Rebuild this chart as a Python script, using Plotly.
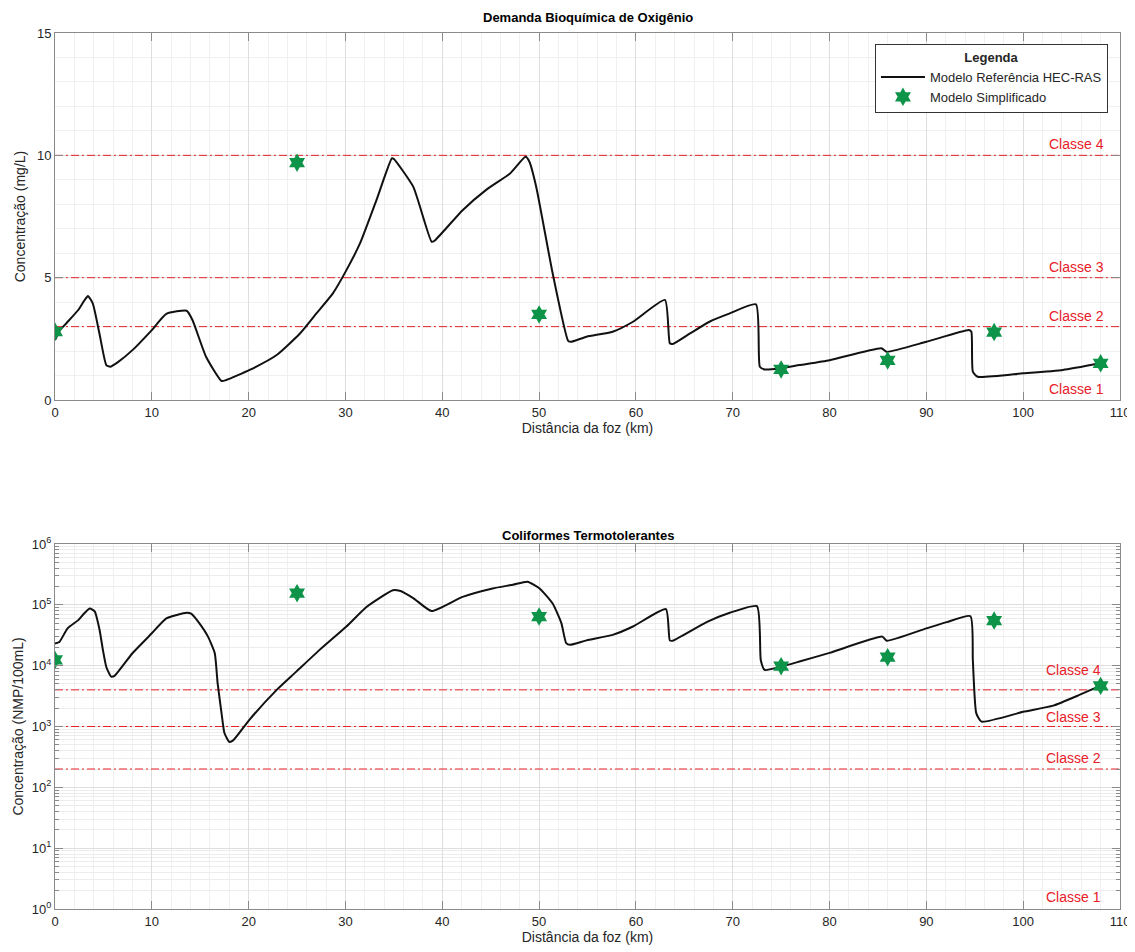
import plotly.graph_objects as go

# ---------------- data ----------------
dbo_x = [0, 0.5, 1.2, 2.4, 3.0, 3.4, 3.9, 4.6, 5.3, 5.7, 6.5, 8.0, 10.0, 11.5, 13.6, 14.2,
         15.6, 17.2, 17.7, 20.1, 22.9, 25.3, 27.0, 28.7, 30.1, 31.5, 33.2, 34.8, 35.0, 37.0,
         38.9, 39.2, 42.1, 44.5, 47.0, 48.6, 49.0, 49.7, 51.4, 53.0, 53.3, 54.9, 57.6, 59.7,
         63.0, 63.5, 63.8, 65.5, 67.6, 69.7, 72.4, 72.8, 73.3, 74.8, 76.9, 80.0, 85.35, 85.9,
         90.0, 94.4, 94.65, 94.8, 95.3, 100.0, 104.1, 108.0]
dbo_y = [2.45, 2.85, 3.15, 3.68, 4.05, 4.25, 3.95, 2.7, 1.43, 1.36, 1.55, 2.04, 2.86, 3.52, 3.65, 3.27,
         1.77, 0.78, 0.82, 1.23, 1.84, 2.72, 3.54, 4.36, 5.31, 6.4, 8.17, 9.88, 9.85, 8.72,
         6.47, 6.51, 7.76, 8.58, 9.26, 9.94, 9.74, 8.72, 5.18, 2.42, 2.38, 2.59, 2.79, 3.2,
         4.09, 2.32, 2.29, 2.7, 3.2, 3.54, 3.91, 1.36, 1.25, 1.29, 1.43, 1.63, 2.12, 1.97,
         2.38, 2.86, 2.79, 1.16, 0.95, 1.09, 1.23, 1.5]

coli_x = [0, 0.45, 1.3, 2.4, 3.0, 3.6, 4.1, 4.6, 4.95, 5.3, 5.8, 6.15, 8.0, 10.0, 11.5, 13.6,
          14.1, 14.9, 15.8, 16.5, 16.8, 17.2, 17.5, 18.0, 18.4, 20.1, 22.9, 24.9, 27.3, 30.1,
          32.2, 34.9, 35.6, 37.0, 38.9, 42.1, 45.2, 47.3, 48.8, 50.05, 51.4, 52.3, 52.8, 53.2,
          54.9, 57.6, 59.7, 63.1, 63.5, 63.8, 67.3, 69.7, 72.5, 72.9, 73.3, 74.85, 76.9, 80.0,
          85.45, 85.9, 90.0, 92.1, 94.55, 94.8, 95.15, 95.7, 100.0, 103.1, 105.8, 108.0]
coli_y = [2.3e4, 2.45e4, 4.1e4, 5.6e4, 7.2e4, 8.7e4, 7.8e4, 3.9e4, 1.8e4, 9.5e3, 6.6e3, 6.8e3,
          1.6e4, 3.4e4, 6.0e4, 7.4e4, 7.1e4, 5.0e4, 3.0e4, 1.6e4, 5.1e3, 1.66e3, 7.8e2, 5.6e2,
          5.9e2, 1.3e3, 4.0e3, 7.9e3, 1.8e4, 4.4e4, 9.3e4, 1.74e5, 1.7e5, 1.29e5, 7.9e4,
          1.35e5, 1.86e5, 2.14e5, 2.4e5, 1.86e5, 1.05e5, 5.0e4, 2.34e4, 2.2e4, 2.6e4, 3.2e4,
          4.4e4, 8.5e4, 2.6e4, 2.57e4, 5.2e4, 7.4e4, 9.5e4, 1.23e4, 8.5e3, 9.5e3, 1.17e4,
          1.62e4, 3.0e4, 2.57e4, 4.1e4, 5.2e4, 6.5e4, 1.23e4, 1.66e3, 1.2e3, 1.74e3, 2.2e3,
          3.3e3, 4.7e3]

simp_x = [0, 25, 50, 75, 86, 97, 108]
simp_dbo = [2.8, 9.7, 3.5, 1.25, 1.62, 2.78, 1.5]
simp_coli = [1.24e4, 1.55e5, 6.4e4, 9.8e3, 1.38e4, 5.5e4, 4.65e3]

dbo_class_vals = [10, 5, 3]
dbo_class_names = ["Classe 4", "Classe 3", "Classe 2", "Classe 1"]
dbo_label_y = [10.45, 5.45, 3.45, 0.45]

coli_class_vals = [4000, 1000, 200]
coli_class_names = ["Classe 4", "Classe 3", "Classe 2", "Classe 1"]
coli_label_logy = [3.93, 3.16, 2.48, 0.2]

x_ticks = [0, 10, 20, 30, 40, 50, 60, 70, 80, 90, 100, 110]
dbo_ticks = [0, 5, 10, 15]
coli_ticks = [1, 10, 100, 1000, 10000, 100000, 1000000]
coli_ticktext = ["10<sup>0</sup>", "10<sup>1</sup>", "10<sup>2</sup>", "10<sup>3</sup>",
                 "10<sup>4</sup>", "10<sup>5</sup>", "10<sup>6</sup>"]

# ---------------- figure ----------------
FONT = "Liberation Sans, Arial, sans-serif"
GREEN = "#0e9448"
RED = "#e8202a"
AX = "#8a8a8a"
TXT = "#262626"
DASH = "8px,3px,2px,3px"

fig = go.Figure()

for v in dbo_class_vals:
    fig.add_trace(go.Scatter(x=[0, 110], y=[v, v], mode="lines", xaxis="x", yaxis="y",
                             line=dict(color=RED, width=1, dash=DASH),
                             showlegend=False, hoverinfo="skip"))
for v in coli_class_vals:
    fig.add_trace(go.Scatter(x=[0, 110], y=[v, v], mode="lines", xaxis="x2", yaxis="y2",
                             line=dict(color=RED, width=1, dash=DASH),
                             showlegend=False, hoverinfo="skip"))

fig.add_trace(go.Scatter(x=dbo_x, y=dbo_y, mode="lines", xaxis="x", yaxis="y",
                         line=dict(color="#111111", width=2, shape="spline", smoothing=0.5),
                         name="Modelo Referência HEC-RAS"))
fig.add_trace(go.Scatter(x=simp_x, y=simp_dbo, mode="markers", xaxis="x", yaxis="y",
                         marker=dict(symbol="hexagram", size=14, color=GREEN,
                                     line=dict(width=0)),
                         name="Modelo Simplificado"))
fig.add_trace(go.Scatter(x=coli_x, y=coli_y, mode="lines", xaxis="x2", yaxis="y2",
                         line=dict(color="#111111", width=2, shape="spline", smoothing=0.5),
                         showlegend=False))
fig.add_trace(go.Scatter(x=simp_x, y=simp_coli, mode="markers", xaxis="x2", yaxis="y2",
                         marker=dict(symbol="hexagram", size=14, color=GREEN,
                                     line=dict(width=0)),
                         showlegend=False))

common_x = dict(range=[0, 110], tickvals=x_ticks, showgrid=True, gridcolor="#dedede",
                gridwidth=1, zeroline=False, showline=True, linecolor=AX, linewidth=1,
                mirror="ticks", ticks="inside", ticklen=8, tickcolor=AX, automargin=False,
                tickfont=dict(family=FONT, size=13, color=TXT),
                minor=dict(dtick=2, showgrid=True, gridcolor="#f0f0f0", ticks=""),
                title=dict(text="Distância da foz (km)", font=dict(family=FONT, size=14, color=TXT),
                           standoff=4))

# the page body adds an 8px offset, so the figure is sized to fit the window
fig.update_layout(
    width=1127, height=944,
    margin=dict(l=47, r=15, t=25, b=43, autoexpand=False),
    paper_bgcolor="white", plot_bgcolor="white",
    font=dict(family=FONT, color=TXT),
    xaxis=dict(common_x, anchor="y"),
    yaxis=dict(domain=[0.581, 1], range=[0, 15], tickvals=dbo_ticks, showgrid=True,
               gridcolor="#dedede", zeroline=False, showline=True, linecolor=AX,
               mirror="ticks", ticks="inside", ticklen=8, tickcolor=AX, automargin=False,
               tickfont=dict(family=FONT, size=13, color=TXT),
               minor=dict(dtick=1, showgrid=True, gridcolor="#f0f0f0", ticks=""),
               title=dict(text="Concentração (mg/L)", font=dict(family=FONT, size=14, color=TXT),
                          standoff=8)),
    xaxis2=dict(common_x, anchor="y2"),
    yaxis2=dict(domain=[0, 0.4167], type="log", range=[0, 6], tickvals=coli_ticks,
                ticktext=coli_ticktext, showgrid=True, gridcolor="#dedede", zeroline=False,
                showline=True, linecolor=AX, mirror="ticks", ticks="inside", ticklen=8,
                tickcolor=AX, automargin=False, tickfont=dict(family=FONT, size=13, color=TXT),
                minor=dict(dtick="D1", showgrid=True, gridcolor="#ececec", ticks="inside",
                           ticklen=4, tickcolor=AX),
                title=dict(text="Concentração (NMP/100mL)", font=dict(family=FONT, size=14, color=TXT),
                           standoff=4)),
    legend=dict(x=0.9887, y=0.9874, xanchor="right", yanchor="top",
                bgcolor="white", bordercolor="#333333", borderwidth=1,
                font=dict(family=FONT, size=13, color=TXT),
                title=dict(text="<b>Legenda</b>", side="top center",
                           font=dict(family=FONT, size=13, color=TXT)),
                tracegroupgap=0, itemwidth=44),
    showlegend=True,
)

annotations = [
    dict(text="<b>Demanda Bioquímica de Oxigênio</b>", xref="paper", yref="paper",
         x=0.5, y=1.0285, xanchor="center", yanchor="top", showarrow=False,
         font=dict(family=FONT, size=13, color="#000000")),
    dict(text="<b>Coliformes Termotolerantes</b>", xref="paper", yref="paper",
         x=0.5, y=0.4258, xanchor="center", yanchor="middle", showarrow=False,
         font=dict(family=FONT, size=13, color="#000000")),
]
for name, yy in zip(dbo_class_names, dbo_label_y):
    annotations.append(dict(text=name, xref="x", yref="y", x=108.6, y=yy, xanchor="right",
                            yanchor="middle", showarrow=False,
                            font=dict(family=FONT, size=14, color=RED)))
for name, yy in zip(coli_class_names, coli_label_logy):
    annotations.append(dict(text=name, xref="x2", yref="y2", x=108.2, y=yy, xanchor="right",
                            yanchor="middle", showarrow=False,
                            font=dict(family=FONT, size=14, color=RED)))
fig.update_layout(annotations=annotations)

# separator line under the legend title
fig.add_shape(type="line", xref="paper", yref="paper", x0=0.7709, x1=0.9887,
              y0=0.9595, y1=0.9595, line=dict(color="#333333", width=1))

fig.write_html("out.html")
